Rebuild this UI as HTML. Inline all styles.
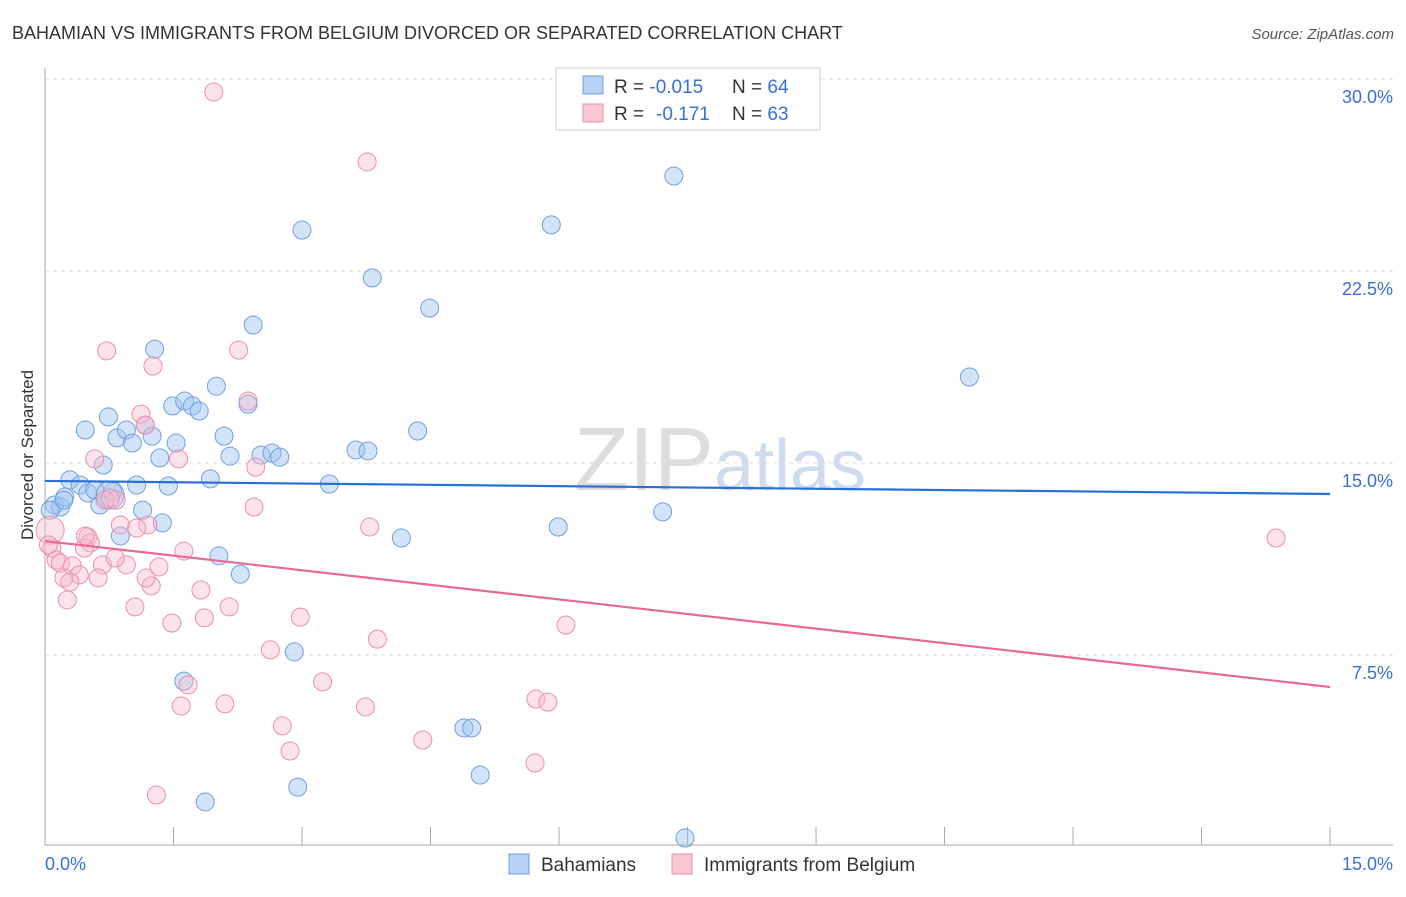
<!DOCTYPE html>
<html><head><meta charset="utf-8"><style>
body{margin:0;background:#fff;font-family:"Liberation Sans",sans-serif;}
svg text{font-family:"Liberation Sans",sans-serif;}
</style></head><body>
<svg width="1406" height="892">
<text x="12" y="39" font-size="18" fill="#333">BAHAMIAN VS IMMIGRANTS FROM BELGIUM DIVORCED OR SEPARATED CORRELATION CHART</text>
<text x="1394" y="39" font-size="15" fill="#555" font-style="italic" text-anchor="end">Source: ZipAtlas.com</text>
<text x="33" y="455" font-size="17" fill="#333" transform="rotate(-90 33 455)" text-anchor="middle">Divorced or Separated</text>
<text x="720" y="490" font-size="90" fill="#ddd" text-anchor="middle" font-family="Liberation Serif">ZIP<tspan fill="#cfdcef" font-family="Liberation Sans" font-size="72">atlas</tspan></text>
<g id="grid"></g><g id="axes"></g><g id="pts"></g><g id="lines"></g>
<g>
<rect x="556" y="68" width="264" height="62" fill="#fff" stroke="#ccc"/>
<rect x="583" y="76" width="20" height="18" fill="#b7d2f5" stroke="#6f9fe0"/>
<rect x="583" y="104" width="20" height="18" fill="#f9c6d4" stroke="#eb8fab"/>
<text x="614" y="93" font-size="19" fill="#333">R = <tspan fill="#3a6fd8">-0.015</tspan><tspan x="732">N = </tspan><tspan fill="#3a6fd8">64</tspan></text>
<text x="614" y="120" font-size="19" fill="#333">R = <tspan fill="#3a6fd8" x="656">-0.171</tspan><tspan x="732">N = </tspan><tspan fill="#3a6fd8">63</tspan></text>
</g>
<g>
<rect x="509" y="854" width="20" height="20" fill="#b7d2f5" stroke="#6f9fe0"/>
<text x="541" y="871" font-size="19" fill="#333">Bahamians</text>
<rect x="672" y="854" width="20" height="20" fill="#f9c6d4" stroke="#eb8fab"/>
<text x="704" y="871" font-size="19" fill="#333">Immigrants from Belgium</text>
</g>
<text x="45" y="870" font-size="18" fill="#3a6fd8">0.0%</text>
<text x="1393" y="870" font-size="18" fill="#3a6fd8" text-anchor="end">15.0%</text>
</svg>
<script>
const NS="http://www.w3.org/2000/svg";
const yTicks=[30,22.5,15,7.5];
const yTickLabels=["30.0%","22.5%","15.0%","7.5%"];
const xTicks=[0,1.5,3,4.5,6,7.5,9,10.5,12,13.5,15];
const blueX=[0.11,0.18,0.23,0.29,0.41,0.5,0.58,0.64,0.68,0.47,0.74,0.84,0.95,1.02,0.79,1.07,1.14,1.17,1.25,1.28,1.34,1.37,1.44,1.49,1.53,1.63,1.72,1.80,1.93,2.0,2.09,2.16,2.03,2.28,2.37,2.43,2.52,2.65,2.74,3.0,3.32,3.63,3.77,3.82,4.16,4.35,4.49,2.91,1.62,1.87,2.95,4.89,4.98,5.08,5.91,5.99,7.21,7.34,7.47,10.79,0.88,0.22,0.06,0.76];
const blueY=[13.36,13.28,13.67,14.34,14.14,13.83,13.95,13.36,14.92,16.29,16.8,15.98,16.29,15.78,13.87,14.14,13.16,16.48,16.05,19.45,15.2,12.66,14.1,17.23,15.78,17.42,17.23,17.03,14.38,18.0,16.05,15.27,11.37,10.66,17.3,20.39,15.31,15.39,15.23,24.1,14.18,15.51,15.47,22.23,12.07,16.25,21.05,7.62,6.48,1.76,2.34,4.65,4.65,2.81,24.3,12.5,13.09,26.21,0.35,18.36,12.15,13.55,13.16,13.75];
const blueR=[9,9,9,9,9,9,9,9,9,9,9,9,9,9,9,9,9,9,9,9,9,9,9,9,9,9,9,9,9,9,9,9,9,9,9,9,9,9,9,9,9,9,9,9,9,9,9,9,9,9,9,9,9,9,9,9,9,9,9,9,9,9,9,14];
const pinkX=[1.97,3.76,0.72,1.26,2.26,2.37,1.12,1.17,0.58,1.56,2.46,0.83,2.44,3.79,0.88,1.2,1.07,0.5,0.53,0.46,1.62,0.08,0.13,0.18,0.32,0.67,0.95,1.33,0.82,0.4,0.22,0.29,0.62,1.24,1.18,0.26,1.05,1.82,2.15,1.86,2.98,1.48,3.88,6.08,2.63,3.24,1.67,1.59,2.1,3.74,5.73,5.87,2.77,2.86,4.41,5.72,1.3,14.37,0.06,0.04,0.7,0.76,0.47];
const pinkY=[29.49,26.76,19.38,18.79,19.41,17.42,16.91,16.48,15.16,15.16,14.84,13.55,13.28,12.5,12.58,12.58,12.46,12.11,11.88,11.68,11.56,11.68,11.21,11.09,10.98,11.02,11.02,10.94,11.29,10.63,10.51,10.35,10.51,10.2,10.51,9.65,9.38,10.04,9.38,8.95,8.98,8.75,8.12,8.67,7.7,6.45,6.33,5.51,5.59,5.47,5.78,5.66,4.73,3.75,4.18,3.28,2.03,12.07,12.38,11.8,13.55,13.63,12.15];
const pinkR=[9,9,9,9,9,9,9,9,9,9,9,9,9,9,9,9,9,9,9,9,9,9,9,9,9,9,9,9,9,9,9,9,9,9,9,9,9,9,9,9,9,9,9,9,9,9,9,9,9,9,9,9,9,9,9,9,9,9,14,9,9,9,9];
const blueTrend=[14.30,13.79];
const pinkTrend=[11.95,6.25];
const X=v=>45+v*85.67, Y=v=>847-v*25.6;
function mk(t,a,p){const e=document.createElementNS(NS,t);for(const k in a)e.setAttribute(k,a[k]);document.getElementById(p).appendChild(e);return e;}
yTicks.forEach((t,i)=>{
 const l=mk('line',{x1:45,x2:1393,y1:Y(t),y2:Y(t),stroke:'#ddd','stroke-dasharray':'4 4'},'grid');
 
 
 const tx=mk('text',{x:1393,y:Y(t)+24,'font-size':18,fill:'#3a6fd8','text-anchor':'end'},'grid');
 tx.textContent=yTickLabels[i];
 
 
});
const ax=mk('line',{x1:45,x2:45,y1:68,y2:845,stroke:'#aaa'},'axes');


const bx=mk('line',{x1:45,x2:1393,y1:845,y2:845,stroke:'#aaa'},'axes');


xTicks.forEach(t=>{
 const l=mk('line',{x1:X(t),x2:X(t),y1:827,y2:845,stroke:'#aaa'},'axes');
 
 
});
blueX.forEach((v,i)=>{
 const c=mk('circle',{cx:X(v),cy:Y(blueY[i]),r:blueR[i],fill:'rgba(160,195,240,0.45)',stroke:'#6f9fe0','stroke-width':1},'pts');
 
 
});
pinkX.forEach((v,i)=>{
 const c=mk('circle',{cx:X(v),cy:Y(pinkY[i]),r:pinkR[i],fill:'rgba(248,185,205,0.4)',stroke:'#eb8fab','stroke-width':1},'pts');
 
 
});
const bl=mk('line',{x1:X(0),x2:X(15),y1:Y(blueTrend[0]),y2:Y(blueTrend[1]),stroke:'#2a6fd6','stroke-width':2.2},'lines');


const pl=mk('line',{x1:X(0),x2:X(15),y1:Y(pinkTrend[0]),y2:Y(pinkTrend[1]),stroke:'#e86a94','stroke-width':2.2},'lines');


</script>
</body></html>
